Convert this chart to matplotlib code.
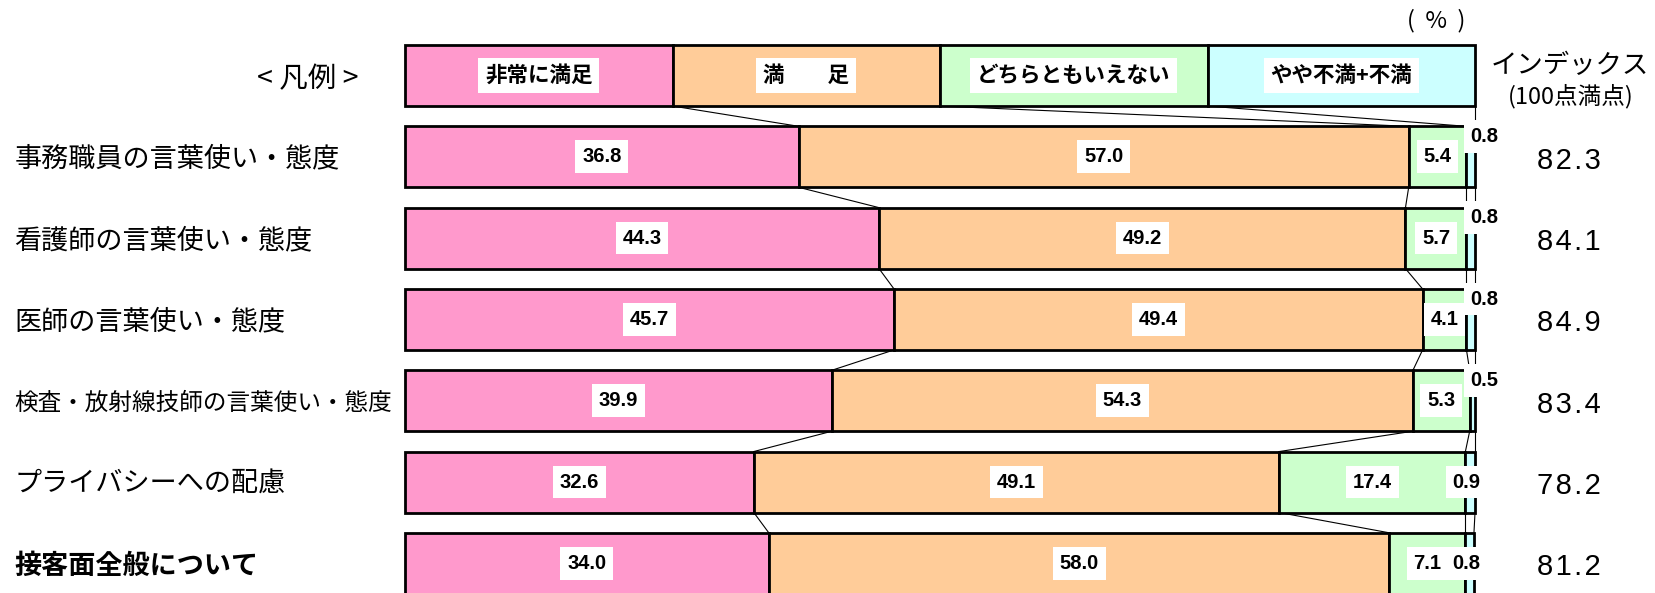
import matplotlib
matplotlib.use('Agg')
import matplotlib.pyplot as plt
import numpy as np

plt.rcParams['font.family'] = ['Noto Sans CJK JP', 'DejaVu Sans']

# Data
categories = ['事務職員の言葉使い・態度', '看護師の言葉使い・態度', '医師の言葉使い・態度',
              '検査・放射線技師の言葉使い・態度', 'プライバシーへの配慮', '接客面全般について']
legend_labels = ['非常に満足', '満\u3000\u3000足', 'どちらともいえない', 'やや不満+不満']
very_satisfied = [36.8, 44.3, 45.7, 39.9, 32.6, 34.0]
satisfied = [57.0, 49.2, 49.4, 54.3, 49.1, 58.0]
neutral = [5.4, 5.7, 4.1, 5.3, 17.4, 7.1]
dissatisfied = [0.8, 0.8, 0.8, 0.5, 0.9, 0.8]
index_values = ['82.3', '84.1', '84.9', '83.4', '78.2', '81.2']
legend_share = [25, 25, 25, 25]

colors = ['#FF99CC', '#FFCC99', '#CCFFCC', '#CCFFFF']
small_label_mode = ['above', 'above', 'above', 'above', 'inside', 'inside']

series = np.array([very_satisfied, satisfied, neutral, dissatisfied])
bar_h = 0.75

fig = plt.figure(figsize=(16.55, 5.93), dpi=100)
ax = fig.add_axes([0, 0, 1, 1])
ax.set_xlim(-37.85, 116.82)
ax.set_ylim(6.365, -0.929)
ax.axis('off')

num_font = dict(family='Liberation Sans', fontweight='bold', fontsize=14.5)
box = dict(facecolor='white', edgecolor='none', pad=5)
hair = '\u200a'

# legend bar (row 0)
left = 0
for j, share in enumerate(legend_share):
    ax.barh(0, share, left=left, height=bar_h, color=colors[j], edgecolor='black',
            linewidth=2, zorder=2)
    ax.text(left + share / 2, 0, legend_labels[j], ha='center', va='center',
            fontsize=15.5, fontweight='bold', bbox=box, zorder=4)
    left += share
ax.text(-4.3, 0.04, '< 凡例 >', ha='right', va='center', fontsize=20.5)

# data rows
rows = np.arange(1, len(categories) + 1)
prev_edges = np.cumsum(legend_share)
for i, y in enumerate(rows):
    vals = series[:, i]
    lefts = np.concatenate([[0], np.cumsum(vals)[:-1]])
    for j in range(4):
        ax.barh(y, vals[j], left=lefts[j], height=bar_h, color=colors[j],
                edgecolor='black', linewidth=2, zorder=2)
    for j in range(3):
        ax.text(lefts[j] + vals[j] / 2, y, f'{vals[j]:.1f}', ha='center', va='center',
                bbox=box, zorder=4, **num_font)
    # small last segment label
    if small_label_mode[i] == 'above':
        ax.text(lefts[3] + vals[3] + 0.9, y - 0.25, f'{vals[3]:.1f}', ha='center',
                va='center', bbox=box, zorder=4, **num_font)
    else:
        ax.text(lefts[3] + 0.1, y, f'{vals[3]:.1f}', ha='center', va='center',
                bbox=box, zorder=4, **num_font)
    # connector lines from previous row
    edges = np.cumsum(vals)
    for a, b in zip(prev_edges, edges):
        ax.plot([a, b], [y - 1 + bar_h / 2, y - bar_h / 2], color='black', lw=0.8, zorder=1)
    prev_edges = edges

    fs = 17 if len(categories[i]) > 14 else 19.5
    fw = 'bold' if i == len(categories) - 1 else 'normal'
    ax.text(-36.5, y + 0.03, categories[i], ha='left', va='center', fontsize=fs, fontweight=fw)
    ax.text(108.8, y + 0.05, hair.join(index_values[i]), ha='center', va='center',
            fontsize=21, family=['Liberation Sans', 'DejaVu Sans'])

ax.text(108.9, -0.12, 'インデックス', ha='center', va='center', fontsize=19)
ax.text(108.9, 0.25, '(100点満点)', ha='center', va='center', fontsize=17)
ax.text(96.4, -0.68, '(  %  )', ha='center', va='center', fontsize=17)

plt.savefig('out.png', dpi=100)
plt.close()
